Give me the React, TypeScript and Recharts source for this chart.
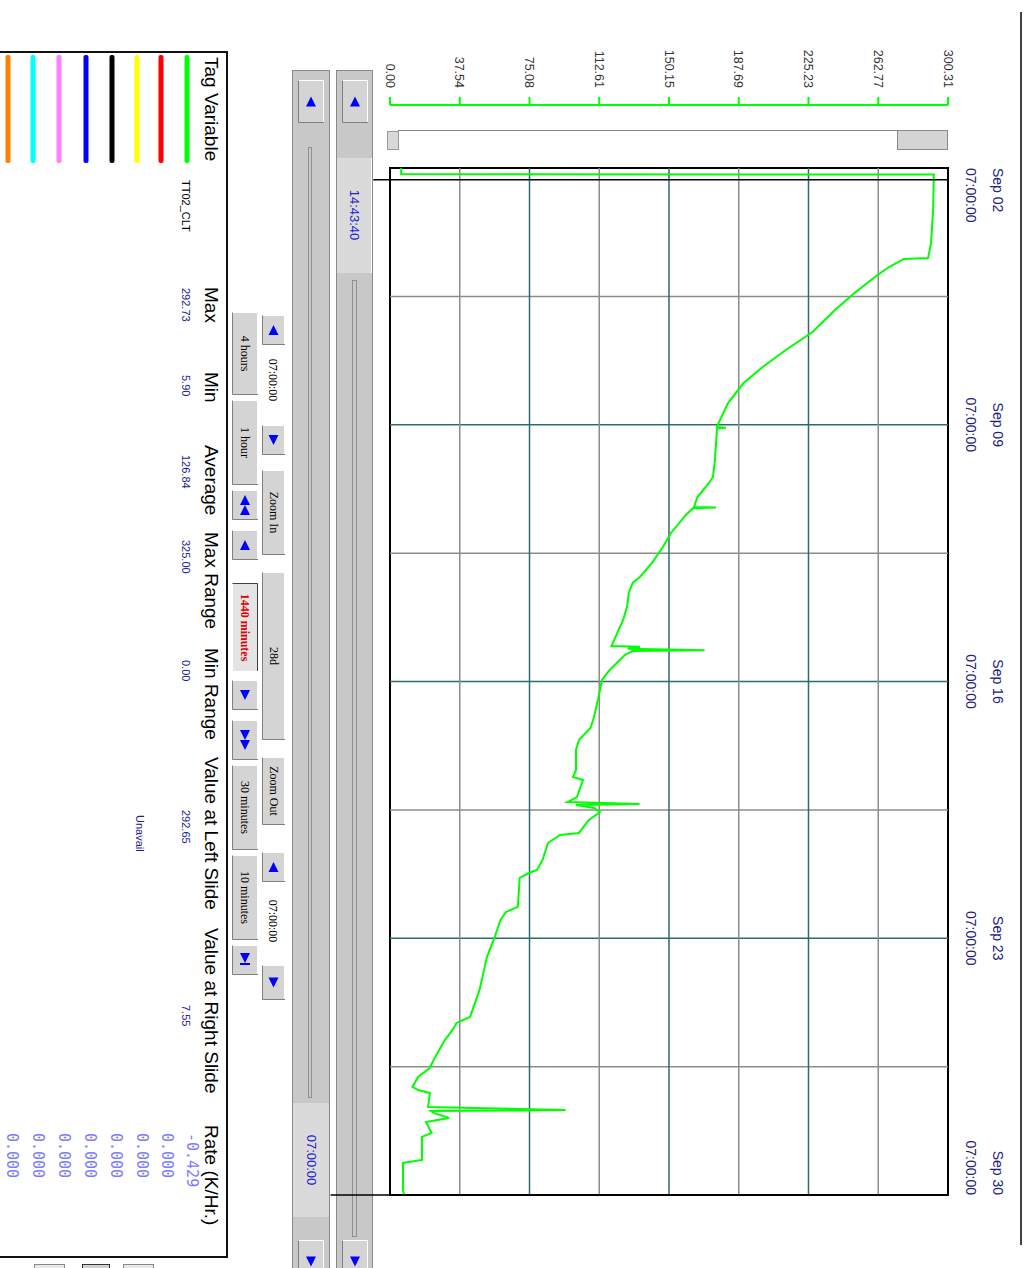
import React from 'react'
import { LineChart, Line, XAxis, YAxis, ReferenceLine, ReferenceArea } from 'recharts'

// hours after Sep 02 07:00:00 and the TT02_CLT reading (K)
const hours = [0, 4, 4.3, 10, 27.5, 49, 58.9, 59.5, 64.8, 70, 81.8, 92.9, 107.3, 119.1, 130.2, 140.7, 153.8, 166.8, 169.5, 170, 170.5, 191, 202.2, 206.1, 215.3, 221.8, 222.2, 222.6, 227, 238.8, 248, 258.4, 267.6, 271.5, 278.1, 287.2, 295.8, 312.8, 313.2, 314.5, 315.5, 316, 318.6, 328.5, 335, 348.1, 359.2, 366.4, 374.3, 380.8, 393.9, 398.5, 400.4, 411.6, 414.9, 416.2, 416.8, 418.8, 421.4, 426.7, 435.1, 436.4, 441.7, 452.8, 459.3, 461.3, 464.5, 483.5, 486.8, 492, 503.1, 516.2, 537.8, 555.5, 559.4, 564, 570.5, 583.6, 588.9, 594.8, 601.3, 603.3, 605.2, 614.4, 616.4, 617, 618.3, 621.6, 624.2, 631.4, 634, 649.1, 651, 668.7, 672]
const temps = [6, 6, 292.7, 292.6, 292.3, 291.2, 289.6, 276.6, 268.6, 262.4, 250, 239.5, 227.4, 213, 200.6, 190.3, 181.9, 176.9, 176, 180.8, 176, 174.9, 173.8, 171.7, 165.5, 163.6, 175.5, 163, 159.3, 151.2, 146.9, 141, 134.5, 130.6, 128.5, 127.6, 125.4, 119.2, 134.5, 128, 169.3, 130.6, 126.5, 118.2, 114.1, 111.9, 109.8, 107.9, 101.7, 100.1, 100.1, 98.5, 103.9, 100.6, 95.5, 134.3, 100, 109.8, 113, 106.9, 101.7, 91.5, 85, 82.1, 79.1, 74.8, 69.8, 68.8, 62.4, 59.5, 56.4, 52.2, 48.2, 43.1, 35.8, 33.7, 29.6, 23.5, 21.4, 15.1, 12.1, 15.1, 21.5, 20.5, 94.5, 22, 23.5, 31.8, 19.4, 22.4, 17.2, 17.2, 7, 7, 7.55]

const timeTicks = [0, 84, 168, 252, 336, 420, 504, 588, 672]
const dateLabels = ['Sep 02', 'Sep 09', 'Sep 16', 'Sep 23', 'Sep 30']
const valueTicks = [0, 37.54, 75.08, 112.61, 150.15, 187.69, 225.23, 262.77, 300.31]
const leftCursor = 7.73 // 14:43:40
const rightCursor = 672

const headers = ['Tag Variable', 'Max', 'Min', 'Average', 'Max Range', 'Min Range', 'Value at Left Slide', 'Value at Right Slide', 'Rate (K/Hr.)']
const stats = ['292.73', '5.90', '126.84', '325.00', '0.00', '292.65', '7.55']
const rates = ['-0.429', '0.000', '0.000', '0.000', '0.000', '0.000', '0.000', '0.000']
const penColors = ['#00ff00', '#ff0000', '#ffff00', '#000000', '#0000ff', '#ff80ff', '#00ffff', '#ff8000']

const data = hours.map((h, i) => ({ h, t: temps[i] }))

const sans = '"Liberation Sans", Arial, sans-serif'
const serif = '"Liberation Serif", "Times New Roman", serif'

const TimeTick = (props: any) => {
  const { x, y, payload } = props
  if (payload.value % 168 !== 0) return <g />
  const k = payload.value / 168
  const anchor = k === 0 ? 'start' : k === dateLabels.length - 1 ? 'end' : 'middle'
  return (
    <g fontFamily={sans} fontSize={14} fill="#202080">
      <text x={x} y={y - 45} textAnchor={anchor}>{dateLabels[k]}</text>
      <text x={x} y={y - 18} textAnchor={anchor}>07:00:00</text>
    </g>
  )
}

const Bevel = ({ x, y, w, h, sunken = false, fill = '#d4d4d4' }: any) => (
  <g>
    <rect x={x} y={y} width={w} height={h} fill={fill} />
    <path d={`M${x + 0.5},${y + h} V${y + 0.5} H${x + w}`} stroke={sunken ? '#404040' : '#ffffff'} fill="none" />
    <path d={`M${x + 0.5},${y + h - 0.5} H${x + w - 0.5} V${y}`} stroke={sunken ? '#ffffff' : '#808080'} fill="none" />
  </g>
)

const Tri = ({ cx, cy, dir, s = 6 }: any) => {
  const d = dir === 'left' ? -1 : 1
  return <polygon points={`${cx + d * s},${cy} ${cx - d * s},${cy - s} ${cx - d * s},${cy + s}`} fill="#0000ff" />
}

const ArrowBtn = ({ x, y, w, h, dir, kind = 'single' }: any) => {
  const cx = x + w / 2
  const cy = y + h / 2
  return (
    <g>
      <Bevel x={x} y={y} w={w} h={h} />
      {kind === 'single' && <Tri cx={cx} cy={cy} dir={dir} s={5} />}
      {kind === 'double' && (
        <g>
          <Tri cx={cx - 5} cy={cy} dir={dir} s={5} />
          <Tri cx={cx + 5} cy={cy} dir={dir} s={5} />
        </g>
      )}
      {kind === 'end' && (
        <g>
          <Tri cx={cx - 2} cy={cy} dir={dir} s={5} />
          <rect x={cx + 3} y={cy - 5} width={2} height={10} fill="#0000ff" />
        </g>
      )}
    </g>
  )
}

const TextBtn = ({ x, y, w, h, label, color = '#000', bold = false, sunken = false, fill }: any) => (
  <g>
    <Bevel x={x} y={y} w={w} h={h} sunken={sunken} fill={fill} />
    <text x={x + w / 2} y={y + h / 2 + 4} textAnchor="middle" fontFamily={serif} fontSize={12} fill={color} fontWeight={bold ? 'bold' : 'normal'}>
      {label}
    </text>
  </g>
)

const Panel = () => (
  <svg width={1268} height={1029} style={{ position: 'absolute', left: 0, top: 0 }}>
    <line x1={12} y1={8} x2={1245} y2={8} stroke="#000" strokeWidth={1.5} />

    {/* value slider */}
    <line x1={130.5} y1={84} x2={130.5} y2={631} stroke="#888" />
    <rect x={130.5} y={81.5} width={19} height={50} fill="#d4d4d4" stroke="#888" />
    <rect x={131.5} y={630.5} width={18} height={11} fill="#d8d8d8" stroke="#999" />

    {/* cursor scrollbar */}
    <rect x={70.5} y={656.5} width={1198} height={36} fill="#c8c8c8" stroke="#8a8a8a" />
    <ArrowBtn x={80} y={661} w={43} h={26} dir="left" />
    <rect x={158} y={657} width={115} height={35} fill="#dadada" />
    <line x1={158} y1={657.5} x2={273} y2={657.5} stroke="#fff" />
    <text x={215} y={679} textAnchor="middle" fontFamily={sans} fontSize={13} fill="#2020cc">14:43:40</text>
    <rect x={280.5} y={672.5} width={956} height={4} fill="none" stroke="#909090" />
    <ArrowBtn x={1240} y={661} w={43} h={26} dir="right" />

    {/* range scrollbar */}
    <rect x={70.5} y={699.5} width={1198} height={37} fill="#c8c8c8" stroke="#8a8a8a" />
    <ArrowBtn x={80} y={705} w={43} h={26} dir="left" />
    <rect x={147.5} y={717.5} width={950} height={3} fill="none" stroke="#909090" />
    <rect x={1103} y={700} width={114} height={36} fill="#dadada" />
    <text x={1160} y={722} textAnchor="middle" fontFamily={sans} fontSize={13} fill="#2020cc">07:00:00</text>
    <ArrowBtn x={1240} y={705} w={43} h={26} dir="right" />

    {/* navigation row 1 */}
    <ArrowBtn x={315} y={744} w={30} h={23} dir="left" />
    <text x={380} y={760} textAnchor="middle" fontFamily={serif} fontSize={12}>07:00:00</text>
    <ArrowBtn x={425} y={744} w={30} h={23} dir="right" />
    <TextBtn x={470} y={744} w={85} h={23} label="Zoom In" />
    <TextBtn x={572} y={744} w={168} h={23} label="28d" />
    <TextBtn x={757} y={744} w={68} h={23} label="Zoom Out" />
    <ArrowBtn x={852} y={744} w={30} h={23} dir="left" />
    <text x={921} y={760} textAnchor="middle" fontFamily={serif} fontSize={12}>07:00:00</text>
    <ArrowBtn x={965} y={744} w={35} h={23} dir="right" />

    {/* navigation row 2 */}
    <TextBtn x={312} y={771} w={83} h={26} label="4 hours" />
    <TextBtn x={400} y={771} w={85} h={26} label="1 hour" />
    <ArrowBtn x={490} y={771} w={30} h={26} dir="left" kind="double" />
    <ArrowBtn x={530} y={771} w={30} h={26} dir="left" />
    <TextBtn x={583} y={771} w={89} h={26} label="1440 minutes" color="#e00000" bold sunken fill="#e4e4e4" />
    <ArrowBtn x={680} y={771} w={30} h={26} dir="right" />
    <ArrowBtn x={720} y={771} w={40} h={26} dir="right" kind="double" />
    <TextBtn x={765} y={771} w={85} h={26} label="30 minutes" />
    <TextBtn x={855} y={771} w={85} h={26} label="10 minutes" />
    <ArrowBtn x={945} y={771} w={30} h={26} dir="right" kind="end" />

    {/* statistics table */}
    <rect x={52} y={802} width={1205} height={260} fill="#fff" stroke="#111" strokeWidth={2} />
    {headers.map((label, i) => (
      <text key={label} x={[57, 287, 372, 445, 532, 648, 757, 928, 1125][i]} y={824} fontFamily={sans} fontSize={19} fill="#000">
        {label}
      </text>
    ))}
    {penColors.map((c, i) => (
      <rect key={c} x={55} y={[842, 868, 892, 917, 943, 970, 996, 1021][i] - 2.5} width={108} height={5} rx={2} fill={c} />
    ))}
    <text x={180} y={847} fontFamily={sans} fontSize={11} fill="#000">TT02_CLT</text>
    {stats.map((s, i) => (
      <text key={i} x={[288, 375, 455, 540, 660, 810, 1005][i]} y={847} fontFamily={sans} fontSize={11} fill="#1a1a9a">
        {s}
      </text>
    ))}
    <text x={815} y={893} fontFamily={sans} fontSize={11} fill="#1a1a9a">Unavail</text>
    {rates.map((r, i) => (
      <text key={i} x={1133} y={[842, 867, 892, 918, 944, 970, 996, 1022][i]} fontFamily='"DejaVu Sans Mono", monospace' fontSize={15} fill="#7c7cff">
        {r}
      </text>
    ))}

    {/* buttons below the table, cut off by the window edge */}
    <rect x={1264.5} y={875.5} width={10} height={30} fill="#e8e8e8" stroke="#888" />
    <rect x={1264.5} y={919.5} width={10} height={27} fill="#d0d0d0" stroke="#333" />
    <rect x={1264.5} y={964.5} width={10} height={30} fill="#e8e8e8" stroke="#888" />
  </svg>
)

export default function App() {
  return (
    <div style={{ position: 'absolute', left: 0, top: 0, width: 1029, height: 1268, overflow: 'hidden', background: '#fff' }}>
      <div
        style={{
          position: 'absolute',
          left: 0,
          top: 0,
          width: 1268,
          height: 1029,
          transform: 'translateX(1029px) rotate(90deg)',
          transformOrigin: '0 0',
        }}
      >
        <Panel />
        <div style={{ position: 'absolute', left: 0, top: 0, zIndex: 2 }}>
          <LineChart width={1268} height={705} data={data} margin={{ top: 6, right: 73, bottom: 66, left: 0 }}>
            <XAxis
              dataKey="h"
              type="number"
              domain={[0, 672]}
              ticks={timeTicks}
              orientation="top"
              height={75}
              axisLine={false}
              tickLine={false}
              tickSize={0}
              tickMargin={0}
              tick={<TimeTick />}
              interval={0}
              allowDataOverflow
            />
            <YAxis yAxisId="pad" orientation="left" width={63} domain={[0, 1]} tick={false} axisLine={false} tickLine={false} />
            <YAxis
              yAxisId="v"
              orientation="left"
              width={105}
              type="number"
              domain={[0, 300.31]}
              ticks={valueTicks}
              interval={0}
              tickFormatter={(v: number) => v.toFixed(2)}
              axisLine={{ stroke: '#00ff00', strokeWidth: 2 }}
              tickLine={{ stroke: '#00ff00', strokeWidth: 2 }}
              tickSize={8}
              tickMargin={9}
              tick={{ fill: '#333', fontSize: 12.5, fontFamily: sans }}
              allowDataOverflow
            />
            {timeTicks.slice(1, -1).map((t, i) => (
              <ReferenceLine key={'t' + t} yAxisId="v" x={t} stroke={i % 2 === 1 ? '#2e6a6e' : '#8c8c8c'} strokeWidth={1.5} />
            ))}
            {valueTicks.slice(1, -1).map((v, i) => (
              <ReferenceLine key={'v' + v} yAxisId="v" y={v} stroke={i % 2 === 1 ? '#2e6a6e' : '#8c8c8c'} strokeWidth={1.5} />
            ))}
            <Line yAxisId="v" dataKey="t" type="linear" stroke="#00ff00" strokeWidth={2} dot={false} isAnimationActive={false} />
            <ReferenceArea yAxisId="v" x1={0} x2={672} y1={0} y2={300.31} fill="none" stroke="#000" strokeWidth={2} ifOverflow="visible" />
            <ReferenceLine
              yAxisId="v"
              segment={[{ x: leftCursor, y: -9 }, { x: leftCursor, y: 300.31 }]}
              stroke="#000"
              strokeWidth={1.5}
              ifOverflow="visible"
            />
            <ReferenceLine
              yAxisId="v"
              segment={[{ x: rightCursor, y: -32 }, { x: rightCursor, y: 300.31 }]}
              stroke="#000"
              strokeWidth={1.5}
              ifOverflow="visible"
            />
          </LineChart>
        </div>
      </div>
    </div>
  )
}
